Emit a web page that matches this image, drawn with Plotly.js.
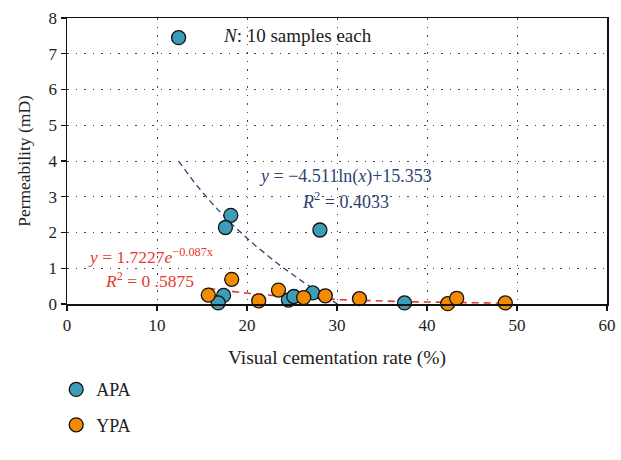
<!DOCTYPE html>
<html>
<head>
<meta charset="utf-8">
<script src="https://cdn.plot.ly/plotly-3.0.1.min.js"></script>
<style>
  html, body { margin: 0; padding: 0; background: #fff; }
  #chart { width: 621px; height: 460px; }
</style>
</head>
<body>
<div id="chart"></div>
<script>
// Cementation rate (%) vs permeability (mD) for two sandstone groups
const apaRate = [12.4, 18.2, 17.6, 28.1, 17.4, 16.8, 24.6, 25.2, 27.3, 37.5];
const apaPerm = [7.45, 2.48, 2.14, 2.07, 0.24, 0.03, 0.11, 0.21, 0.31, 0.03];

const ypaRate = [15.7, 18.3, 21.3, 23.5, 26.3, 28.7, 32.5, 42.3, 43.3, 48.7];
const ypaPerm = [0.25, 0.69, 0.09, 0.39, 0.18, 0.23, 0.15, 0.01, 0.16, 0.03];

// Fitted trend coefficients (as printed on the chart)
const apaLogA = -4.511, apaLogB = 15.353;      // y = a ln(x) + b
const ypaExpA = 1.7227, ypaExpK = -0.087;      // y = a e^(k x)

const xTicks = [0, 10, 20, 30, 40, 50, 60];
const yTicks = [0, 1, 2, 3, 4, 5, 6, 7, 8];

// Sample the fitted curves over the span of each series
function sample(x0, x1, n, f) {
  const xs = [], ys = [];
  for (let i = 0; i <= n; i++) {
    const x = x0 + (x1 - x0) * i / n;
    xs.push(x); ys.push(f(x));
  }
  return { xs, ys };
}
const apaEnd = Math.exp(apaLogB / -apaLogA);   // where the log fit reaches zero
const apaFit = sample(Math.min(...apaRate), apaEnd, 80, x => apaLogA * Math.log(x) + apaLogB);
const ypaFit = sample(Math.min(...ypaRate), Math.max(...ypaRate), 80, x => ypaExpA * Math.exp(ypaExpK * x));

const serif = 'Liberation Serif, Times New Roman, serif';
const teal = '#3d9db8';
const orange = '#f48a00';
const navy = '#2f4272';
const red = '#e5392f';

const traces = [
  { x: apaFit.xs, y: apaFit.ys, mode: 'lines', showlegend: false, hoverinfo: 'skip',
    line: { color: navy, width: 1.3, dash: '6px,4px' } },
  { x: ypaFit.xs, y: ypaFit.ys, mode: 'lines', showlegend: false, hoverinfo: 'skip',
    line: { color: red, width: 1.6, dash: '7px,5px' } },
  { x: apaRate, y: apaPerm, mode: 'markers', name: 'APA', legendgroup: 'a',
    cliponaxis: false,
    marker: { size: 14, color: teal, line: { color: '#111', width: 1.3 } } },
  { x: ypaRate, y: ypaPerm, mode: 'markers', name: 'YPA', legendgroup: 'b',
    cliponaxis: false,
    marker: { size: 14, color: orange, line: { color: '#111', width: 1.3 } } }
];

const axisBase = {
  showline: true, linecolor: '#111', linewidth: 1.5, mirror: true,
  ticks: 'outside', ticklen: 5, tickwidth: 1.3, tickcolor: '#111',
  showgrid: true, gridcolor: '#444', gridwidth: 1, griddash: '1.5px,7px',
  zeroline: false,
  tickfont: { family: serif, size: 17, color: '#222' }
};

const layout = {
  width: 621, height: 460,
  margin: { l: 67, r: 14, t: 18, b: 156 },
  paper_bgcolor: '#fff', plot_bgcolor: '#fff',
  font: { family: serif, color: '#222' },
  xaxis: Object.assign({}, axisBase, {
    range: [0, 60], tickvals: xTicks, ticktext: xTicks.map(String),
    title: { text: 'Visual cementation rate (%)', font: { family: serif, size: 19.5, color: '#222' }, standoff: 16 }
  }),
  yaxis: Object.assign({}, axisBase, {
    range: [0, 8], tickvals: yTicks, ticktext: yTicks.map(String),
    title: { text: 'Permeability (mD)', font: { family: serif, size: 17.5, color: '#222' }, standoff: 13 }
  }),
  showlegend: true,
  legend: {
    x: -0.02, xanchor: 'left', y: -0.235, yanchor: 'top',
    traceorder: 'grouped', tracegroupgap: 9,
    font: { family: serif, size: 18, color: '#222' },
    bgcolor: 'rgba(0,0,0,0)'
  },
  annotations: [
    { x: 25.6, y: 7.5, xref: 'x', yref: 'y', showarrow: false,
      text: '<i>N</i>: 10 samples each', font: { family: serif, size: 19, color: '#222' } },
    { x: 30.9, y: 3.57, xref: 'x', yref: 'y', showarrow: false,
      text: '<i>y</i> = −4.511ln(<i>x</i>)+15.353', font: { family: serif, size: 18, color: navy } },
    { x: 30.9, y: 2.9, xref: 'x', yref: 'y', showarrow: false,
      text: '<i>R</i><sup>2</sup> = 0.4033', font: { family: serif, size: 18, color: navy } },
    { x: 9.3, y: 1.33, xref: 'x', yref: 'y', showarrow: false,
      text: '<i>y</i> = 1.7227<i>e</i><sup>−0.087x</sup>', font: { family: serif, size: 17.5, color: red } },
    { x: 9.2, y: 0.67, xref: 'x', yref: 'y', showarrow: false,
      text: '<i>R</i><sup>2</sup> = 0 .5875', font: { family: serif, size: 17.5, color: red } }
  ]
};

Plotly.newPlot('chart', traces, layout, { staticPlot: true, displayModeBar: false });
</script>
</body>
</html>
